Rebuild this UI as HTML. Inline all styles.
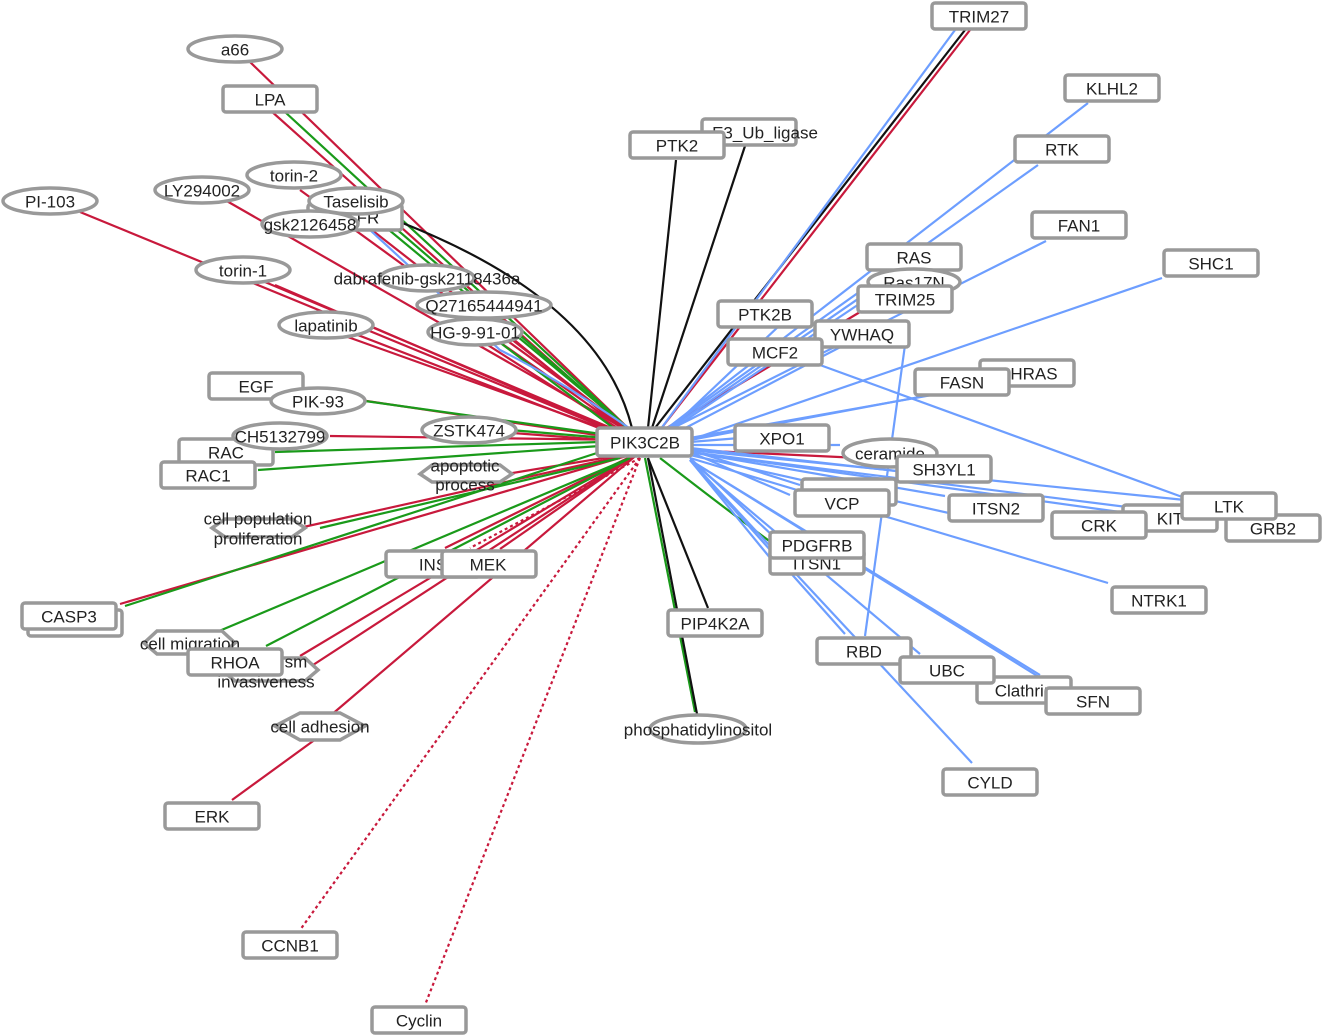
<!DOCTYPE html>
<html><head><meta charset="utf-8"><style>
html,body{margin:0;padding:0;background:#fff;}
svg{display:block;font-family:"Liberation Sans",Arial,sans-serif;font-size:17px;}
.n{fill:#fff;stroke:#999;stroke-width:3.5;}
.r{stroke:#c8193c;stroke-width:2.2;fill:none}
.g{stroke:#1a9a1a;stroke-width:2.2;fill:none}
.b{stroke:#6d9eff;stroke-width:2.2;fill:none}
.k{stroke:#111;stroke-width:2.2;fill:none}
.d{stroke:#c8193c;stroke-width:2.2;stroke-dasharray:3,3;fill:none}
text{fill:#222;text-anchor:middle;dominant-baseline:central}
</style></head><body>
<svg width="1324" height="1036" viewBox="0 0 1324 1036">
<g>
<path class="r" d="M250 62 L630 430"/>
<path class="r" d="M270 110 L630 432"/>
<path class="r" d="M80 212 L630 438"/>
<path class="r" d="M225 200 L630 432"/>
<path class="r" d="M300 190 L630 430"/>
<path class="r" d="M265 282 L630 436"/>
<path class="r" d="M275 285 L630 438"/>
<path class="r" d="M345 336 L630 438"/>
<path class="r" d="M350 332 L630 440"/>
<path class="r" d="M360 400 L630 440"/>
<path class="r" d="M330 436 L630 440"/>
<path class="r" d="M500 432 L630 442"/>
<path class="r" d="M440 300 L630 434"/>
<path class="r" d="M490 320 L630 435"/>
<path class="r" d="M480 340 L630 436"/>
<path class="r" d="M340 205 L630 432"/>
<path class="r" d="M640 452 L120 604"/>
<path class="r" d="M640 452 L300 656"/>
<path class="r" d="M640 452 L290 680"/>
<path class="r" d="M640 452 L330 716"/>
<path class="r" d="M320 736 L232 800"/>
<path class="r" d="M640 452 L445 548"/>
<path class="r" d="M640 452 L500 549"/>
<path class="r" d="M640 452 L290 530"/>
<path class="r" d="M640 452 L470 480"/>
<path class="r" d="M660 430 L970 30"/>
<path class="r" d="M660 432 L880 300"/>
<path class="r" d="M690 450 L860 458"/>
<path class="d" d="M640 458 L300 930"/>
<path class="d" d="M640 458 L425 1005"/>
<path class="d" d="M640 458 L470 548"/>
<path class="g" d="M285 112 L630 430"/>
<path class="g" d="M630 430 L365 210"/>
<path class="g" d="M630 430 L380 215"/>
<path class="g" d="M365 401 L630 438"/>
<path class="g" d="M510 430 L630 440"/>
<path class="g" d="M600 442 L275 452"/>
<path class="g" d="M600 446 L258 470"/>
<path class="g" d="M600 452 L125 606"/>
<path class="g" d="M620 458 L320 528"/>
<path class="g" d="M630 458 L212 634"/>
<path class="g" d="M630 458 L266 646"/>
<path class="g" d="M645 458 L695 712"/>
<path class="g" d="M660 458 Q740 520 775 545"/>
<path class="g" d="M640 448 L470 320"/>
<path class="k" d="M655 428 L965 30"/>
<path class="k" d="M648 428 L676 160"/>
<path class="k" d="M652 428 L745 146"/>
<path class="k" d="M400 222 Q600 300 632 428"/>
<path class="k" d="M648 458 L708 608"/>
<path class="k" d="M648 458 L697 714"/>
<path class="b" d="M660 430 L955 30"/>
<path class="b" d="M665 430 L1088 103"/>
<path class="b" d="M665 430 L1038 165"/>
<path class="b" d="M665 432 L1046 241"/>
<path class="b" d="M690 440 L1162 278"/>
<path class="b" d="M665 432 L900 270"/>
<path class="b" d="M665 434 L880 290"/>
<path class="b" d="M665 434 L780 325"/>
<path class="b" d="M670 436 L850 342"/>
<path class="b" d="M690 438 L960 390"/>
<path class="b" d="M690 440 L1010 380"/>
<path class="b" d="M820 365 L1185 498"/>
<path class="b" d="M690 442 L740 438"/>
<path class="b" d="M690 445 L840 445"/>
<path class="b" d="M690 448 L905 472"/>
<path class="b" d="M690 450 L800 485"/>
<path class="b" d="M690 452 L790 495"/>
<path class="b" d="M690 452 L945 496"/>
<path class="b" d="M690 450 L1185 500"/>
<path class="b" d="M690 452 L1120 512"/>
<path class="b" d="M690 452 L1230 520"/>
<path class="b" d="M690 455 L980 520"/>
<path class="b" d="M690 458 L1108 583"/>
<path class="b" d="M690 458 L790 552"/>
<path class="b" d="M690 460 L780 570"/>
<path class="b" d="M690 460 L845 634"/>
<path class="b" d="M690 460 L920 654"/>
<path class="b" d="M690 460 L1040 675"/>
<path class="b" d="M690 460 L1060 690"/>
<path class="b" d="M690 460 L972 763"/>
<path class="b" d="M905 345 L865 636"/>
<path class="b" d="M632 430 Q560 380 500 350 L370 230"/>
</g>
<g>
<rect class="n" x="932" y="3" width="94" height="26" rx="3"/><text x="979" y="17">TRIM27</text>
<rect class="n" x="1065" y="75" width="94" height="26" rx="3"/><text x="1112" y="89">KLHL2</text>
<rect class="n" x="1015" y="136" width="94" height="26" rx="3"/><text x="1062" y="150">RTK</text>
<rect class="n" x="1032" y="212" width="94" height="26" rx="3"/><text x="1079" y="226">FAN1</text>
<rect class="n" x="1164" y="250" width="94" height="26" rx="3"/><text x="1211" y="264">SHC1</text>
<rect class="n" x="702" y="119" width="94" height="26" rx="3"/><text x="765" y="133">E3_Ub_ligase</text>
<rect class="n" x="630" y="132" width="94" height="26" rx="3"/><text x="677" y="146">PTK2</text>
<rect class="n" x="867" y="244" width="94" height="26" rx="3"/><text x="914" y="258">RAS</text>
<ellipse class="n" cx="914" cy="282" rx="46" ry="13"/><text x="914" y="283">Ras17N</text>
<rect class="n" x="858" y="286" width="94" height="26" rx="3"/><text x="905" y="300">TRIM25</text>
<rect class="n" x="718" y="301" width="94" height="26" rx="3"/><text x="765" y="315">PTK2B</text>
<rect class="n" x="815" y="321" width="94" height="26" rx="3"/><text x="862" y="335">YWHAQ</text>
<rect class="n" x="728" y="339" width="94" height="26" rx="3"/><text x="775" y="353">MCF2</text>
<rect class="n" x="980" y="360" width="94" height="26" rx="3"/><text x="1034" y="374">HRAS</text>
<rect class="n" x="915" y="369" width="94" height="26" rx="3"/><text x="962" y="383">FASN</text>
<rect class="n" x="735" y="425" width="94" height="26" rx="3"/><text x="782" y="439">XPO1</text>
<ellipse class="n" cx="890" cy="453" rx="47" ry="14"/><text x="890" y="454">ceramide</text>
<rect class="n" x="897" y="456" width="94" height="26" rx="3"/><text x="944" y="470">SH3YL1</text>
<rect class="n" x="802" y="479" width="94" height="26" rx="3"/>
<rect class="n" x="795" y="490" width="94" height="26" rx="3"/><text x="842" y="504">VCP</text>
<rect class="n" x="949" y="495" width="94" height="26" rx="3"/><text x="996" y="509">ITSN2</text>
<rect class="n" x="1123" y="505" width="94" height="26" rx="3"/><text x="1170" y="519">KIT</text>
<rect class="n" x="1052" y="512" width="94" height="26" rx="3"/><text x="1099" y="526">CRK</text>
<rect class="n" x="1226" y="515" width="94" height="26" rx="3"/><text x="1273" y="529">GRB2</text>
<rect class="n" x="1182" y="493" width="94" height="26" rx="3"/><text x="1229" y="507">LTK</text>
<rect class="n" x="1112" y="587" width="94" height="26" rx="3"/><text x="1159" y="601">NTRK1</text>
<rect class="n" x="770" y="550" width="94" height="24" rx="3"/><text x="817" y="564">ITSN1</text>
<rect class="n" x="770" y="532" width="94" height="26" rx="3"/><text x="817" y="546">PDGFRB</text>
<rect class="n" x="668" y="610" width="94" height="26" rx="3"/><text x="715" y="624">PIP4K2A</text>
<rect class="n" x="817" y="638" width="94" height="26" rx="3"/><text x="864" y="652">RBD</text>
<rect class="n" x="977" y="677" width="94" height="26" rx="3"/><text x="1024" y="691">Clathrin</text>
<rect class="n" x="900" y="657" width="94" height="26" rx="3"/><text x="947" y="671">UBC</text>
<rect class="n" x="1046" y="688" width="94" height="26" rx="3"/><text x="1093" y="702">SFN</text>
<rect class="n" x="943" y="769" width="94" height="26" rx="3"/><text x="990" y="783">CYLD</text>
<ellipse class="n" cx="698" cy="729" rx="48" ry="14"/><text x="698" y="730">phosphatidylinositol</text>
<ellipse class="n" cx="235" cy="49" rx="47" ry="13"/><text x="235" y="50">a66</text>
<rect class="n" x="223" y="86" width="94" height="26" rx="3"/><text x="270" y="100">LPA</text>
<ellipse class="n" cx="50" cy="201" rx="47" ry="13"/><text x="50" y="202">PI-103</text>
<ellipse class="n" cx="202" cy="190" rx="47" ry="13"/><text x="202" y="191">LY294002</text>
<ellipse class="n" cx="294" cy="175" rx="47" ry="13"/><text x="294" y="176">torin-2</text>
<rect class="n" x="308" y="204" width="94" height="26" rx="3"/><text x="368" y="218">FR</text>
<ellipse class="n" cx="310" cy="224" rx="48" ry="13"/><text x="310" y="225">gsk2126458</text>
<ellipse class="n" cx="356" cy="201" rx="47" ry="13"/><text x="356" y="202">Taselisib</text>
<ellipse class="n" cx="243" cy="270" rx="47" ry="13"/><text x="243" y="271">torin-1</text>
<ellipse class="n" cx="427" cy="278" rx="47" ry="13"/><text x="427" y="279">dabrafenib-gsk2118436a</text>
<ellipse class="n" cx="484" cy="305" rx="67" ry="13"/><text x="484" y="306">Q27165444941</text>
<ellipse class="n" cx="475" cy="332" rx="47" ry="13"/><text x="475" y="333">HG-9-91-01</text>
<ellipse class="n" cx="326" cy="325" rx="47" ry="13"/><text x="326" y="326">lapatinib</text>
<rect class="n" x="209" y="373" width="94" height="26" rx="3"/><text x="256" y="387">EGF</text>
<ellipse class="n" cx="318" cy="401" rx="47" ry="13"/><text x="318" y="402">PIK-93</text>
<ellipse class="n" cx="469" cy="430" rx="47" ry="13"/><text x="469" y="431">ZSTK474</text>
<rect class="n" x="179" y="439" width="94" height="26" rx="3"/><text x="226" y="453">RAC</text>
<ellipse class="n" cx="280" cy="436" rx="47" ry="13"/><text x="280" y="437">CH5132799</text>
<rect class="n" x="161" y="462" width="94" height="26" rx="3"/><text x="208" y="476">RAC1</text>
<polygon class="n" points="420,474 432,465 500,465 512,474 500,482 432,482"/><text x="465" y="466">apoptotic</text><text x="465" y="485">process</text>
<polygon class="n" points="212,528 225,519 292,519 305,528 292,537 225,537"/><text x="258" y="519">cell population</text><text x="258" y="539">proliferation</text>
<rect class="n" x="386" y="551" width="94" height="26" rx="3"/><text x="433" y="565">INS</text>
<rect class="n" x="442" y="551" width="94" height="26" rx="3"/><text x="488" y="565">MEK</text>
<rect class="n" x="28" y="610" width="94" height="26" rx="3"/>
<rect class="n" x="22" y="603" width="94" height="26" rx="3"/><text x="69" y="617">CASP3</text>
<polygon class="n" points="144,643 157,631 222,631 235,643 222,654 157,654"/><text x="190" y="644">cell migration</text>
<polygon class="n" points="222,670 235,658 305,658 318,670 305,681 235,681"/><text x="266" y="682">invasiveness</text><text x="296" y="662">sm</text>
<rect class="n" x="188" y="649" width="94" height="26" rx="3"/><text x="235" y="663">RHOA</text>
<polygon class="n" points="275,726 300,713 340,713 365,726 340,740 300,740"/><text x="320" y="727">cell adhesion</text>
<rect class="n" x="165" y="803" width="94" height="26" rx="3"/><text x="212" y="817">ERK</text>
<rect class="n" x="243" y="932" width="94" height="26" rx="3"/><text x="290" y="946">CCNB1</text>
<rect class="n" x="372" y="1007" width="94" height="26" rx="3"/><text x="419" y="1021">Cyclin</text>
<rect class="n" x="597" y="428" width="95" height="28" rx="3"/><text x="645" y="443">PIK3C2B</text>
</g>
</svg>
</body></html>
